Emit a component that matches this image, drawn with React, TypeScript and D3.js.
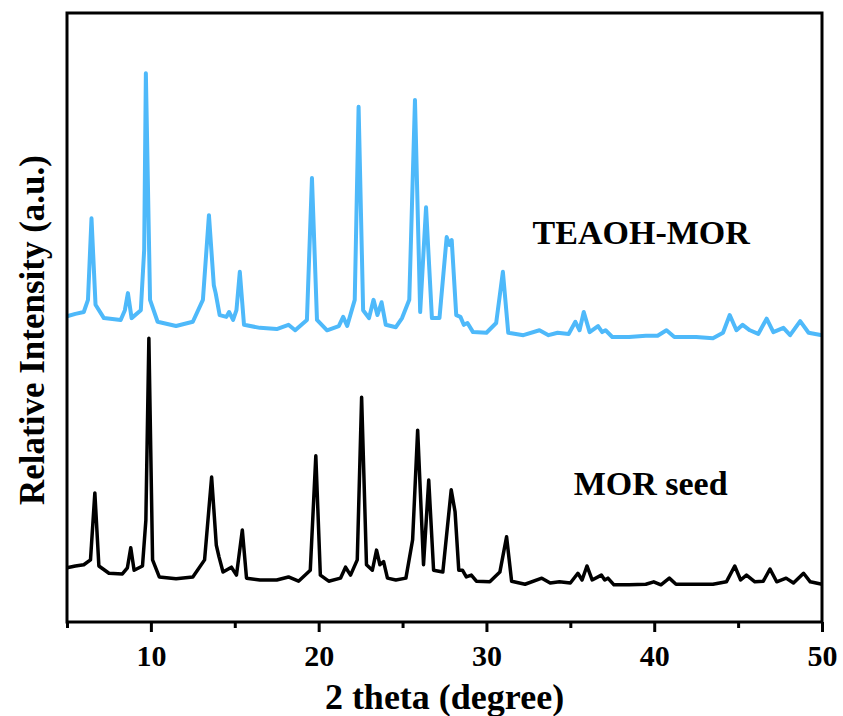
import React, { useEffect, useRef } from "react";
import * as d3 from "d3";

// 2 theta (deg) and intensity (a.u., stacked)
const teaohMor: [number, number][] = [
  [5.0, 50.2], [5.5, 50.6], [6.0, 50.9], [6.25, 52.9], [6.46, 66.3], [6.7, 52.1],
  [7.2, 49.9], [8.2, 49.6], [8.45, 51.2], [8.63, 54.0], [8.85, 49.9], [9.4, 51.2],
  [9.6, 61.1], [9.7, 90.1], [9.95, 52.9], [10.4, 49.3], [11.5, 48.6], [12.5, 49.3],
  [13.1, 52.9], [13.46, 66.8], [13.75, 55.3], [13.86, 54.0], [14.1, 50.4], [14.5, 50.1],
  [14.66, 50.9], [14.9, 49.6], [15.1, 51.2], [15.3, 57.5], [15.55, 48.8], [16.5, 48.3],
  [17.5, 48.1], [18.2, 48.8], [18.6, 47.9], [19.3, 49.6], [19.6, 72.9], [19.9, 49.6],
  [20.5, 47.9], [21.2, 48.6], [21.46, 50.1], [21.7, 48.6], [22.15, 52.9], [22.38, 84.6],
  [22.65, 51.2], [23.0, 49.9], [23.27, 52.9], [23.5, 50.4], [23.75, 52.5], [24.0, 48.8],
  [24.6, 48.4], [24.97, 49.9], [25.4, 52.9], [25.74, 85.7], [26.05, 50.9], [26.4, 68.1],
  [26.75, 49.9], [27.2, 49.9], [27.63, 63.2], [27.8, 61.9], [27.93, 62.7], [28.2, 50.4],
  [28.45, 50.1], [28.65, 48.8], [28.87, 49.1], [29.2, 47.6], [30.0, 47.5], [30.58, 49.1],
  [30.98, 57.5], [31.3, 47.5], [32.2, 47.1], [33.16, 47.9], [33.7, 47.1], [34.24, 47.5],
  [34.9, 47.3], [35.3, 49.3], [35.55, 47.9], [35.8, 50.9], [36.15, 47.6], [36.65, 48.6],
  [36.9, 47.6], [37.1, 47.9], [37.5, 46.8], [38.5, 46.8], [39.5, 47.0], [40.2, 47.0],
  [40.73, 47.9], [41.2, 46.8], [42.5, 46.8], [43.5, 46.6], [44.1, 47.5], [44.5, 50.4],
  [44.9, 47.9], [45.27, 48.8], [45.7, 47.9], [46.2, 47.3], [46.7, 49.8], [47.1, 47.6],
  [47.7, 48.3], [48.1, 47.1], [48.7, 49.4], [49.2, 47.5], [50.0, 47.1],
];

const morSeed: [number, number][] = [
  [5.0, 8.9], [5.5, 9.2], [6.0, 9.4], [6.4, 10.2], [6.66, 21.2], [6.9, 9.2],
  [7.5, 8.0], [8.3, 7.9], [8.6, 8.9], [8.8, 12.2], [9.0, 8.5], [9.5, 9.2],
  [9.7, 16.7], [9.88, 46.6], [10.1, 10.2], [10.5, 7.4], [11.5, 7.1], [12.5, 7.4],
  [13.2, 10.2], [13.62, 23.8], [13.9, 12.6], [14.06, 10.7], [14.3, 8.2], [14.8, 9.0],
  [15.1, 7.7], [15.45, 15.1], [15.7, 7.2], [16.5, 6.9], [17.5, 6.9], [18.2, 7.4],
  [18.8, 6.7], [19.5, 8.5], [19.83, 27.3], [20.1, 7.7], [20.6, 6.7], [21.3, 7.2],
  [21.6, 9.0], [21.9, 7.7], [22.3, 10.2], [22.56, 36.9], [22.85, 9.4], [23.2, 8.5],
  [23.45, 11.8], [23.65, 9.4], [23.87, 9.9], [24.1, 7.2], [24.6, 6.9], [25.2, 7.2],
  [25.6, 13.5], [25.9, 31.5], [26.25, 9.4], [26.56, 23.3], [26.85, 8.5], [27.4, 8.2],
  [27.9, 21.7], [28.13, 18.1], [28.35, 8.5], [28.57, 8.5], [28.8, 7.4], [29.1, 7.7],
  [29.4, 6.7], [30.2, 6.6], [30.8, 8.2], [31.2, 14.0], [31.5, 6.7], [32.3, 6.2],
  [33.3, 7.2], [33.8, 6.4], [34.35, 6.6], [35.0, 6.4], [35.45, 8.0], [35.7, 6.9],
  [35.99, 9.2], [36.3, 6.9], [36.85, 7.7], [37.05, 6.9], [37.24, 7.2], [37.6, 6.1],
  [38.5, 6.1], [39.5, 6.2], [39.97, 6.6], [40.4, 6.1], [40.9, 7.2], [41.3, 6.2],
  [42.5, 6.2], [43.5, 6.2], [44.3, 6.6], [44.8, 9.2], [45.15, 6.9], [45.5, 7.7],
  [46.0, 6.6], [46.5, 6.7], [46.9, 8.7], [47.3, 6.6], [47.86, 7.2], [48.3, 6.4],
  [48.9, 8.0], [49.3, 6.6], [50.0, 6.2],
];

const majorTicks = [10, 20, 30, 40, 50];
const minorTicks = [5, 15, 25, 35, 45];

const App = () => {
  const svgRef = useRef<SVGSVGElement | null>(null);

  useEffect(() => {
    const width = 843;
    const height = 716;
    const margin = { top: 13, right: 21, bottom: 94, left: 67 };

    const svg = d3.select(svgRef.current);
    svg.selectAll("*").remove();
    svg.attr("width", width).attr("height", height);

    const x = d3.scaleLinear().domain([5, 50]).range([margin.left, width - margin.right]);
    const y = d3.scaleLinear().domain([0, 100]).range([height - margin.bottom, margin.top]);

    const line = d3
      .line<[number, number]>()
      .x((d) => x(d[0]))
      .y((d) => y(d[1]))
      .curve(d3.curveLinear);

    const font = "'Liberation Serif', 'Times New Roman', serif";

    // traces
    svg
      .append("path")
      .datum(teaohMor)
      .attr("d", line)
      .attr("fill", "none")
      .attr("stroke", "#4eb9fa")
      .attr("stroke-width", 4)
      .attr("stroke-linejoin", "round");

    svg
      .append("path")
      .datum(morSeed)
      .attr("d", line)
      .attr("fill", "none")
      .attr("stroke", "#000")
      .attr("stroke-width", 3.5)
      .attr("stroke-linejoin", "round");

    // frame
    svg
      .append("rect")
      .attr("x", margin.left)
      .attr("y", margin.top)
      .attr("width", width - margin.left - margin.right)
      .attr("height", height - margin.top - margin.bottom)
      .attr("fill", "none")
      .attr("stroke", "#000")
      .attr("stroke-width", 3);

    // x axis ticks
    const xAxis = svg
      .append("g")
      .attr("transform", `translate(0,${height - margin.bottom})`)
      .call(
        d3.axisBottom(x).tickValues(majorTicks).tickSize(10).tickSizeOuter(0).tickPadding(13)
      );
    xAxis.select(".domain").remove();
    xAxis.selectAll("line").attr("stroke", "#000").attr("stroke-width", 3);
    xAxis
      .selectAll("text")
      .attr("font-family", font)
      .attr("font-weight", "bold")
      .attr("font-size", 30)
      .attr("fill", "#000");

    svg
      .append("g")
      .attr("transform", `translate(0,${height - margin.bottom})`)
      .call(d3.axisBottom(x).tickValues(minorTicks).tickSize(6).tickFormat(() => ""))
      .call((g) => g.select(".domain").remove())
      .selectAll("line")
      .attr("stroke", "#000")
      .attr("stroke-width", 3);

    // axis titles
    svg
      .append("text")
      .attr("x", (margin.left + width - margin.right) / 2)
      .attr("y", 709)
      .attr("text-anchor", "middle")
      .attr("font-family", font)
      .attr("font-weight", "bold")
      .attr("font-size", 36)
      .text("2 theta (degree)");

    svg
      .append("text")
      .attr("transform", `translate(44,${330}) rotate(-90)`)
      .attr("text-anchor", "middle")
      .attr("font-family", font)
      .attr("font-weight", "bold")
      .attr("font-size", 35)
      .text("Relative Intensity (a.u.)");

    // series labels
    svg
      .append("text")
      .attr("x", x(32.75))
      .attr("y", 244)
      .attr("font-family", font)
      .attr("font-weight", "bold")
      .attr("font-size", 34)
      .text("TEAOH-MOR");

    svg
      .append("text")
      .attr("x", x(35.2))
      .attr("y", 495)
      .attr("font-family", font)
      .attr("font-weight", "bold")
      .attr("font-size", 34)
      .text("MOR seed");
  }, []);

  return (
    <svg
      ref={svgRef}
      style={{ position: "absolute", left: 0, top: 0, background: "#fff" }}
    ></svg>
  );
};

export default App;
